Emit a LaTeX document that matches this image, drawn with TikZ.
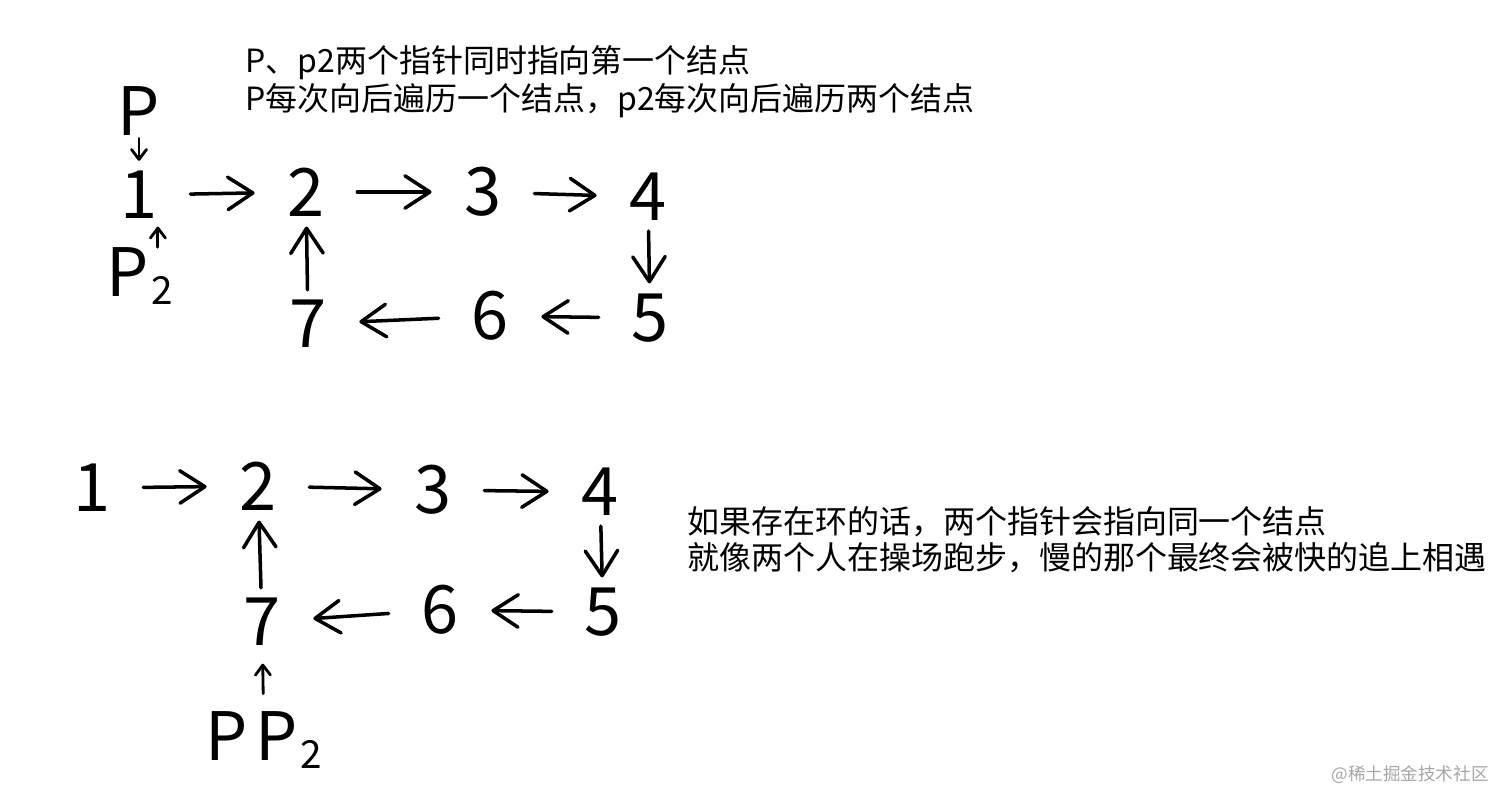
\documentclass[tikz,border=0pt]{standalone}
\usepackage{fontspec}
\setmainfont{Noto Sans CJK SC}
\usetikzlibrary{arrows.meta}
\newcommand{\subtwo}{\kern0.04em\raisebox{-0.12em}{\fontsize{22}{22}\selectfont 2}}
\begin{document}
\begin{tikzpicture}[x=0.02cm,y=-0.02cm,
		num/.style={inner sep=0pt,font=\fontsize{38}{38}\selectfont},
		note/.style={inner sep=0pt,anchor=west,align=left},
		sitetag/.style={inner sep=0pt,text=gray!70,font=\fontsize{10}{12}\selectfont},
		harr/.style={line width=2pt,line cap=round,shorten <=0.65cm,shorten >=0.65cm,
			-{Straight Barb[length=0.5cm,width=0.65cm,line width=2pt,round]}},
		varr/.style={harr,shorten <=0.2cm,shorten >=0.2cm},
		parr/.style={line width=1.6pt,line cap=round,
			-{Straight Barb[length=0.2cm,width=0.3cm,line width=1.6pt,round]}}]
	\useasboundingbox (0,0) rectangle (1512,807);
	% no loop yet: p and p2 start together
	\node[note,font=\fontsize{18.2}{21.6}\selectfont] (intro) at (245,82)
		{P、p2两个指针同时指向第一个结点\\P每次向后遍历一个结点，p2每次向后遍历两个结点};
	\node[num] (tp) at (139,111) {P};
	\node[num] (t1) at (139,195) {1};
	\node[num] (t2) at (306,192) {2};
	\node[num] (t3) at (483,192) {3};
	\node[num] (t4) at (648,197) {4};
	\node[num] (t5) at (650,318) {5};
	\node[num] (t6) at (490,316) {6};
	\node[num] (t7) at (308,324) {7};
	\node[num] (tq) at (140,276) {P\subtwo};
	\draw[parr,shorten <=0.05cm,shorten >=0.2cm] (tp) -- (t1);
	\draw[parr,shorten >=0.15cm] (t1.south east |- tq.north) -- (t1.south east);
	\draw[harr] (t1) -- (t2);
	\draw[harr] (t2) -- (t3);
	\draw[harr] (t3) -- (t4);
	\draw[varr] (t4) -- (t5);
	\draw[harr] (t5) -- (t6);
	\draw[harr] (t6) -- (t7);
	\draw[varr] (t7) -- (t2);
	% with a loop: both meet at 7
	\node[num] (b1) at (92,488) {1};
	\node[num] (b2) at (258,486) {2};
	\node[num] (b3) at (433,490) {3};
	\node[num] (b4) at (600,492) {4};
	\node[num] (b5) at (603,612) {5};
	\node[num] (b6) at (440,610) {6};
	\node[num] (b7) at (262,622) {7};
	\node[num] (bpq) at (264,740) {P\hspace{0.12em}P\subtwo};
	\draw[harr] (b1) -- (b2);
	\draw[harr] (b2) -- (b3);
	\draw[harr] (b3) -- (b4);
	\draw[varr] (b4) -- (b5);
	\draw[harr] (b5) -- (b6);
	\draw[harr] (b6) -- (b7);
	\draw[varr] (b7) -- (b2);
	\draw[parr,shorten <=0.35cm,shorten >=0.35cm] (bpq) -- (b7);
	\node[note,font=\fontsize{18.2}{20.5}\selectfont] (meet) at (687,540)
		{如果存在环的话，两个指针会指向同一个结点\\就像两个人在操场跑步，慢的那个最终会被快的追上相遇};
	\node[sitetag] (site) at (1410,775) {@稀土掘金技术社区};
\end{tikzpicture}
\end{document}
